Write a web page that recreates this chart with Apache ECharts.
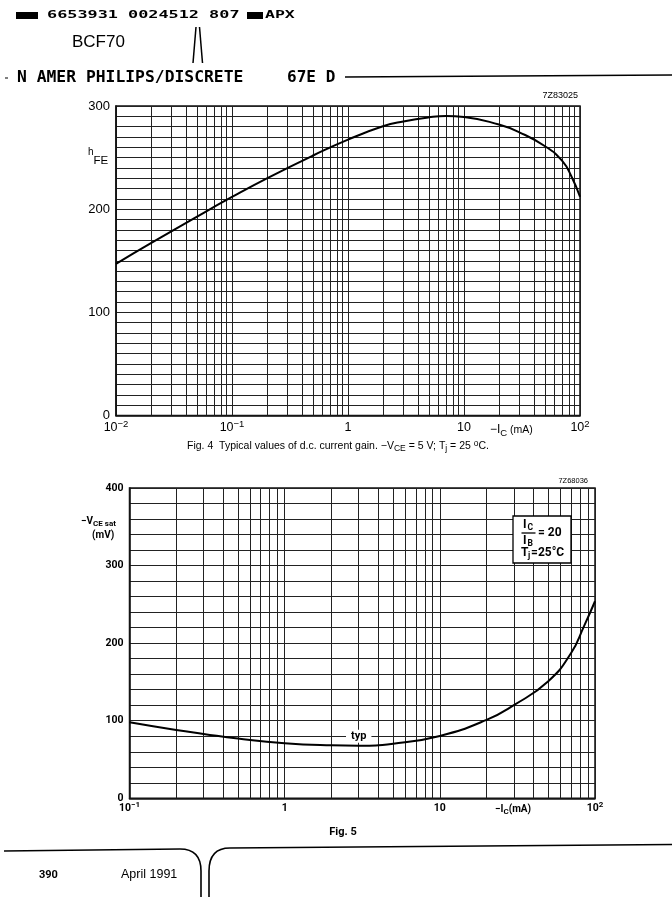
<!DOCTYPE html>
<html><head><meta charset="utf-8">
<script src="https://cdn.jsdelivr.net/npm/echarts@6/dist/echarts.min.js"></script>
<style>html,body{margin:0;padding:0;background:#fff}#c{width:672px;height:897px}</style>
</head><body><div id="c"></div>
<script>
// ---- data ----
const FIG4_IC  = [0.01,0.02,0.05,0.1,0.2,0.5,1,2,3,5,7,10,20,30,50,70,85,100];
const FIG4_HFE = [147,167,192.8,211.8,229.9,252,267.4,280.3,285,289,290.3,289.4,282,274.5,261,247,231,212];
const FIG5_IC  = [0.1,0.2,0.3,0.5,1,2,3,5,10,20,30,50,70,85,100];
const FIG5_VCE = [98,88,83,77,71,68.3,67.8,70.4,80.4,101,120,151,187,222,254];
const FIG4_DECADES = [0.01,0.1,1,10];
const FIG5_DECADES = [0.1,1,10];
const MINOR_STEPS = [2,3,4,5,6,7,8,9];
const FIG4_Y_LABELS = [0,100,200,300];
const FIG5_Y_LABELS = [0,100,200,300,400];

const GRID_C = '#222';
const INK = '#000';

function minors(decades){
  const out=[];
  decades.forEach(d=>MINOR_STEPS.forEach(m=>out.push(+(d*m).toPrecision(6))));
  return out;
}
function decadeLabel(v){
  const e=Math.round(Math.log10(v));
  if(e===0) return '{b|1}';
  if(e===1) return '{b|10}';
  return '{b|10}{s|'+(e<0?'\u2212'+(-e):e)+'}';
}
function gridSeries(xi, decades){
  return {
    type:'line', xAxisIndex:xi, yAxisIndex:xi, data:[], silent:true, z:1,
    markLine:{silent:true, animation:false, symbol:['none','none'], label:{show:false},
      emphasis:{disabled:true},
      lineStyle:{type:'solid', color:GRID_C, width:1},
      data:minors(decades).map(v=>({xAxis:v}))}
  };
}
const SANS='Liberation Sans';
const COND='Roboto';

const richTop = {
  b:{fontFamily:SANS,fontSize:12.5,lineHeight:16,color:INK},
  s:{fontFamily:SANS,fontSize:9.5,lineHeight:10,verticalAlign:'top',color:INK}
};
const richBot = {
  b:{fontFamily:COND,fontWeight:'bold',fontSize:10.5,lineHeight:15,color:INK},
  s:{fontFamily:COND,fontWeight:'bold',fontSize:8,lineHeight:9,verticalAlign:'top',color:INK}
};

function T(x,y,text,o){
  o=o||{};
  const st={text:text,fill:INK,fontFamily:o.ff||SANS,fontSize:o.fs||12,fontWeight:o.fw||'normal',
    textAlign:o.align||'left',align:o.align||'left',textVerticalAlign:'middle',verticalAlign:'middle'};
  if(o.rich) st.rich=o.rich;
  const el={type:'text',x:x,y:y,z:100,style:st};
  if(o.sx) el.scaleX=o.sx;
  return el;
}
function L(x1,y1,x2,y2,w){
  return {type:'line',z:100,shape:{x1:x1,y1:y1,x2:x2,y2:y2},style:{stroke:INK,lineWidth:w||1.5}};
}
const B = {ff:COND,fw:'bold',fs:12};
const Bs = {ff:COND,fw:'bold',fs:8.5};

const chart = echarts.init(document.getElementById('c'));
chart.setOption({
  animation:false,
  backgroundColor:'#fff',
  grid:[
    {left:116, top:106, width:464, height:309.5, show:true, borderColor:'#111', borderWidth:1.5},
    {left:129.5, top:488, width:465.5, height:310.3, show:true, borderColor:'#111', borderWidth:1.5}
  ],
  xAxis:[
    {gridIndex:0, type:'log', logBase:10, min:0.01, max:100,
      axisLine:{show:true,lineStyle:{color:'#111',width:1.5}}, axisTick:{show:false},
      splitLine:{show:true,lineStyle:{color:GRID_C,width:1}},
      axisLabel:{margin:4, showMinLabel:true, showMaxLabel:true, formatter:decadeLabel, rich:richTop}},
    {gridIndex:1, type:'log', logBase:10, min:0.1, max:100,
      axisLine:{show:true,lineStyle:{color:'#111',width:1.5}}, axisTick:{show:false},
      splitLine:{show:true,lineStyle:{color:GRID_C,width:1}},
      axisLabel:{margin:3, showMinLabel:true, showMaxLabel:true, formatter:decadeLabel, rich:richBot}}
  ],
  yAxis:[
    {gridIndex:0, type:'value', min:0, max:300, interval:10,
      axisLine:{show:true,lineStyle:{color:'#111',width:1.5}}, axisTick:{show:false},
      splitLine:{show:true,lineStyle:{color:GRID_C,width:1}},
      axisLabel:{margin:6, color:INK, fontFamily:SANS, fontSize:13,
        formatter:v=>FIG4_Y_LABELS.indexOf(Math.round(v))>=0?String(Math.round(v)):''}},
    {gridIndex:1, type:'value', min:0, max:400, interval:20,
      axisLine:{show:true,lineStyle:{color:'#111',width:1.5}}, axisTick:{show:false},
      splitLine:{show:true,lineStyle:{color:GRID_C,width:1}},
      axisLabel:{margin:6, color:INK, fontFamily:COND, fontWeight:'bold', fontSize:10.5,
        formatter:v=>FIG5_Y_LABELS.indexOf(Math.round(v))>=0?String(Math.round(v)):''}}
  ],
  series:[
    gridSeries(0, FIG4_DECADES),
    gridSeries(1, FIG5_DECADES),
    {type:'line', xAxisIndex:0, yAxisIndex:0, z:5, silent:true, symbol:'none', smooth:0.5,
      lineStyle:{color:INK,width:2},
      data:FIG4_IC.map((x,i)=>[x,FIG4_HFE[i]])},
    {type:'line', xAxisIndex:1, yAxisIndex:1, z:5, silent:true, symbol:'none', smooth:0.5,
      lineStyle:{color:INK,width:2},
      data:FIG5_IC.map((x,i)=>[x,FIG5_VCE[i]]),
      markPoint:{silent:true, symbol:'rect', symbolSize:0,
        data:[{coord:[3,80], value:'typ'}],
        label:{show:true, position:'inside', formatter:'typ', color:INK, backgroundColor:'#fff',
          padding:[1,5], fontFamily:COND, fontWeight:'bold', fontSize:11}}}
  ],
  graphic:[
    // header
    {type:'rect',z:100,shape:{x:16,y:12,width:22,height:7},style:{fill:INK}},
    T(47,15.5,'6653931 0024512 807',{ff:'DejaVu Sans Mono',fw:'bold',fs:11,sx:1.53}),
    {type:'rect',z:100,shape:{x:247,y:12,width:16,height:7},style:{fill:INK}},
    T(265,15.5,'APX',{ff:'DejaVu Sans Mono',fw:'bold',fs:11,sx:1.5}),
    T(72,42,'BCF70',{fs:17}),
    L(196,27,193,63,1.5), L(199.5,27,202.5,63,1.5),
    L(5,78,8,78,1),
    T(17,78,'N AMER PHILIPS/DISCRETE',{ff:'DejaVu Sans Mono',fw:'bold',fs:15,sx:1.09}),
    T(287,78,'67E D',{ff:'DejaVu Sans Mono',fw:'bold',fs:15,sx:1.07}),
    L(345,77,672,75,1.5),
    // fig 4 texts
    T(578,96,'7Z83025',{fs:9,align:'right'}),
    T(88,157,'{h|h}{s|FE}',{rich:{
      h:{fontFamily:SANS,fontSize:10,lineHeight:10,verticalAlign:'top',color:INK},
      s:{fontFamily:SANS,fontSize:11.5,lineHeight:19,verticalAlign:'bottom',color:INK}}}),
    T(490,430,'{n|\u2212I}{s|C}{m| (mA)}',{rich:{
      n:{fontFamily:SANS,fontSize:12,lineHeight:16,color:INK},
      s:{fontFamily:SANS,fontSize:9.5,lineHeight:9,verticalAlign:'bottom',color:INK},
      m:{fontFamily:SANS,fontSize:10.5,lineHeight:16,color:INK}}}),
    T(338,446,'{n|Fig. 4  Typical values of d.c. current gain. \u2212V}{s|CE}{n| = 5 V; T}{s|j}{n| = 25 }{p|o}{n|C.}',{align:'center',rich:{
      n:{fontFamily:SANS,fontSize:10.5,lineHeight:14,color:INK},
      s:{fontFamily:SANS,fontSize:8.5,lineHeight:8,verticalAlign:'bottom',color:INK},
      p:{fontFamily:SANS,fontSize:8.5,lineHeight:8,verticalAlign:'top',color:INK}}}),
    // fig 5 texts
    T(588,481,'7Z68036',{fs:7.5,align:'right'}),
    T(81,521,'{n|\u2212V}{s|CE sat}',{rich:{
      n:{fontFamily:COND,fontWeight:'bold',fontSize:10,lineHeight:14,color:INK},
      s:{fontFamily:COND,fontWeight:'bold',fontSize:8,lineHeight:9,verticalAlign:'bottom',color:INK}}}),
    T(92,535,'(mV)',{ff:COND,fw:'bold',fs:10}),
    T(495,809,'{n|\u2212I}{s|C}{n|(mA)}',{rich:{
      n:{fontFamily:COND,fontWeight:'bold',fontSize:10,lineHeight:14,color:INK},
      s:{fontFamily:COND,fontWeight:'bold',fontSize:8,lineHeight:9,verticalAlign:'bottom',color:INK}}}),
    T(343,832,'Fig. 5',{ff:COND,fw:'bold',fs:11,align:'center'}),
    // legend box
    {type:'rect',z:100,shape:{x:513,y:516,width:58,height:47},style:{fill:'#fff',stroke:INK,lineWidth:1.3}},
    T(523,524.5,'I',B), T(527.5,528,'C',Bs),
    L(521.5,533,535.5,533,1.3),
    T(523,540.5,'I',B), T(527.5,544,'B',Bs),
    T(538,533,'= 20',B),
    T(521,553,'T',B), T(528,556,'j',Bs), T(531,553,'=25\u00b0C',B),
    // footer
    L(4,851,180,849,1.6),
    {type:'bezierCurve',z:100,shape:{x1:180,y1:849,cpx1:201,cpy1:849,x2:201,y2:871},style:{stroke:INK,lineWidth:1.6,fill:null}},
    L(201,871,201,897,1.6),
    L(209,897,209,871,1.6),
    {type:'bezierCurve',z:100,shape:{x1:209,y1:871,cpx1:209,cpy1:848,x2:230,y2:848},style:{stroke:INK,lineWidth:1.6,fill:null}},
    L(230,848,672,844.5,1.6),
    T(39,875,'390',{ff:COND,fw:'bold',fs:11}),
    T(121,875,'April 1991',{fs:12.5})
  ]
});
</script></body></html>
